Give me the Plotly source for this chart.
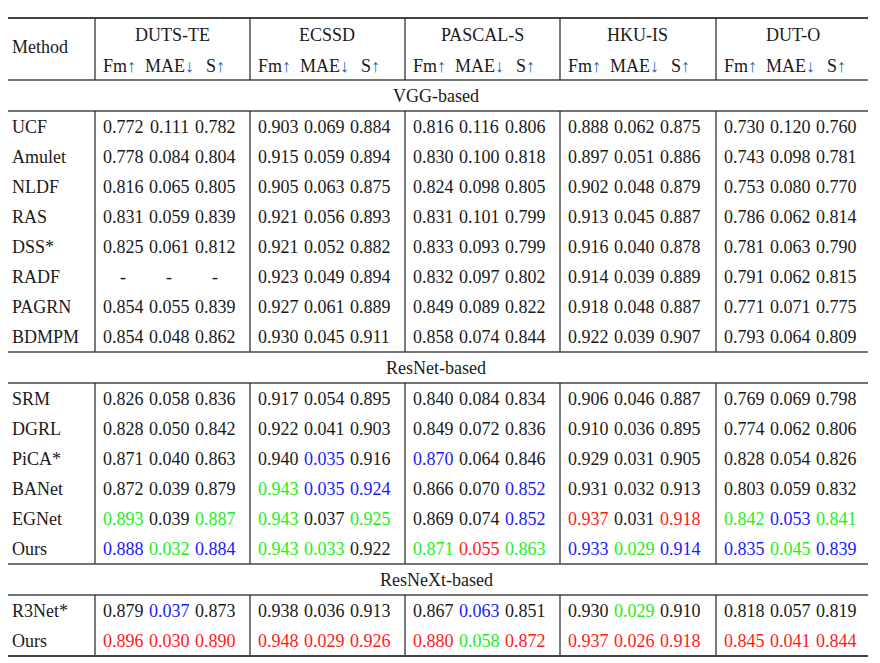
import plotly.graph_objects as go

datasets = ["DUTS-TE", "ECSSD", "PASCAL-S", "HKU-IS", "DUT-O"]
metrics = ["Fm↑", "MAE↓", "S↑"]

sections = ["VGG-based", "ResNet-based", "ResNeXt-based"]

vgg_methods = ["UCF", "Amulet", "NLDF", "RAS", "DSS*", "RADF", "PAGRN", "BDMPM"]
vgg_values = [
    ["0.772", "0.111", "0.782", "0.903", "0.069", "0.884", "0.816", "0.116", "0.806", "0.888", "0.062", "0.875", "0.730", "0.120", "0.760"],
    ["0.778", "0.084", "0.804", "0.915", "0.059", "0.894", "0.830", "0.100", "0.818", "0.897", "0.051", "0.886", "0.743", "0.098", "0.781"],
    ["0.816", "0.065", "0.805", "0.905", "0.063", "0.875", "0.824", "0.098", "0.805", "0.902", "0.048", "0.879", "0.753", "0.080", "0.770"],
    ["0.831", "0.059", "0.839", "0.921", "0.056", "0.893", "0.831", "0.101", "0.799", "0.913", "0.045", "0.887", "0.786", "0.062", "0.814"],
    ["0.825", "0.061", "0.812", "0.921", "0.052", "0.882", "0.833", "0.093", "0.799", "0.916", "0.040", "0.878", "0.781", "0.063", "0.790"],
    ["-", "-", "-", "0.923", "0.049", "0.894", "0.832", "0.097", "0.802", "0.914", "0.039", "0.889", "0.791", "0.062", "0.815"],
    ["0.854", "0.055", "0.839", "0.927", "0.061", "0.889", "0.849", "0.089", "0.822", "0.918", "0.048", "0.887", "0.771", "0.071", "0.775"],
    ["0.854", "0.048", "0.862", "0.930", "0.045", "0.911", "0.858", "0.074", "0.844", "0.922", "0.039", "0.907", "0.793", "0.064", "0.809"],
]
vgg_colors = ["kkkkkkkkkkkkkkk"] * 8

resnet_methods = ["SRM", "DGRL", "PiCA*", "BANet", "EGNet", "Ours"]
resnet_values = [
    ["0.826", "0.058", "0.836", "0.917", "0.054", "0.895", "0.840", "0.084", "0.834", "0.906", "0.046", "0.887", "0.769", "0.069", "0.798"],
    ["0.828", "0.050", "0.842", "0.922", "0.041", "0.903", "0.849", "0.072", "0.836", "0.910", "0.036", "0.895", "0.774", "0.062", "0.806"],
    ["0.871", "0.040", "0.863", "0.940", "0.035", "0.916", "0.870", "0.064", "0.846", "0.929", "0.031", "0.905", "0.828", "0.054", "0.826"],
    ["0.872", "0.039", "0.879", "0.943", "0.035", "0.924", "0.866", "0.070", "0.852", "0.931", "0.032", "0.913", "0.803", "0.059", "0.832"],
    ["0.893", "0.039", "0.887", "0.943", "0.037", "0.925", "0.869", "0.074", "0.852", "0.937", "0.031", "0.918", "0.842", "0.053", "0.841"],
    ["0.888", "0.032", "0.884", "0.943", "0.033", "0.922", "0.871", "0.055", "0.863", "0.933", "0.029", "0.914", "0.835", "0.045", "0.839"],
]
resnet_colors = [
    "kkkkkkkkkkkkkkk",
    "kkkkkkkkkkkkkkk",
    "kkkkbkbkkkkkkkk",
    "kkkgbbkkbkkkkkk",
    "gkggkgkkbrkrgbg",
    "bgbggkgrgbgbbgb",
]

resnext_methods = ["R3Net*", "Ours"]
resnext_values = [
    ["0.879", "0.037", "0.873", "0.938", "0.036", "0.913", "0.867", "0.063", "0.851", "0.930", "0.029", "0.910", "0.818", "0.057", "0.819"],
    ["0.896", "0.030", "0.890", "0.948", "0.029", "0.926", "0.880", "0.058", "0.872", "0.937", "0.026", "0.918", "0.845", "0.041", "0.844"],
]
resnext_colors = ["kbkkkkkbkkgkkkk", "rrrrrrrgrrrrrrr"]

COL = {"k": "#1a1a1a", "r": "#ff1a1a", "g": "#22ee22", "b": "#1a1aff"}
FONT = "Liberation Serif"
FS = 18

fig = go.Figure()
ann = []
def txt(x, y, s, color="#1a1a1a", xanchor="center", size=FS):
    ann.append(dict(x=x, y=y, text=s, showarrow=False, xanchor=xanchor, yanchor="middle",
                    font=dict(family=FONT, size=size, color=color)))

line_c = "#444"
shapes = []
def hline(y, x0=4, x1=868, w=1.5):
    shapes.append(dict(type="line", x0=x0, x1=x1, y0=y, y1=y, line=dict(color=line_c, width=w)))
def vline(x, y0, y1):
    shapes.append(dict(type="line", x0=x, x1=x, y0=y0, y1=y1, line=dict(color="#222", width=1.2)))

group_x = [95, 250, 405, 560, 716]
val_off = [28, 74, 120]
head_off = [24, 74, 120]

# header
txt(10, 47, "Method", xanchor="left")
for gx, name in zip(group_x, datasets):
    txt(gx + 77, 35, name)
    for off, m in zip(head_off, metrics):
        s = m[:-1] + "<span style='color:#1f5fb4'>" + m[-1] + "</span>"
        txt(gx + off, 66, s)
hline(18, w=2)
hline(80)
for gx in group_x:
    vline(gx, 18, 80)

row_h = 30
y = 80
for sec, methods, values, colors in [
    (sections[0], vgg_methods, vgg_values, vgg_colors),
    (sections[1], resnet_methods, resnet_values, resnet_colors),
    (sections[2], resnext_methods, resnext_values, resnext_colors),
]:
    txt(436, y + 16, sec)
    y += 31
    hline(y)
    y0 = y
    for m, vals, cols in zip(methods, values, colors):
        cy = y + 16
        txt(10, cy, m, xanchor="left")
        for gi, gx in enumerate(group_x):
            for k in range(3):
                txt(gx + val_off[k], cy, vals[gi * 3 + k], COL[cols[gi * 3 + k]])
        y += row_h
    for gx in group_x:
        vline(gx, y0, y + 1)
    y += 1
    hline(y)
# bottom line thicker
shapes[-1]["line"]["width"] = 2

# page body has an 8px margin, so offset the ranges to keep picture coords
fig.update_layout(
    width=880, height=663, margin=dict(l=0, r=0, t=0, b=0),
    paper_bgcolor="white", plot_bgcolor="white",
    xaxis=dict(range=[8, 888], visible=False, fixedrange=True),
    yaxis=dict(range=[671, 8], visible=False, fixedrange=True),
    annotations=ann, shapes=shapes, showlegend=False,
)
fig.write_html("out.html")
